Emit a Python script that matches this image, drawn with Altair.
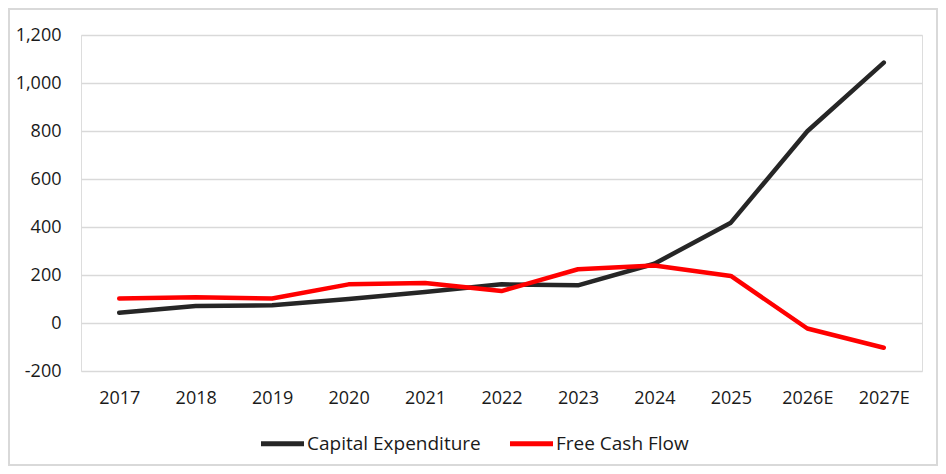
import altair as alt
import pandas as pd

years = ["2017", "2018", "2019", "2020", "2021", "2022", "2023", "2024", "2025", "2026E", "2027E"]
capex = [43, 71, 74, 100, 129, 161, 157, 247, 418, 799, 1085]
fcf = [102, 107, 102, 161, 167, 133, 224, 240, 196, -23, -103]
series_names = ["Capital Expenditure", "Free Cash Flow"]
series_colors = ["#262626", "#ff0000"]
y_ticks = [-200, 0, 200, 400, 600, 800, 1000, 1200]

rows = []
for i, yr in enumerate(years):
    rows.append({"year": yr, "series": series_names[0], "value": capex[i], "order": i})
    rows.append({"year": yr, "series": series_names[1], "value": fcf[i], "order": i})
df = pd.DataFrame(rows)

W, H = 841, 336
FONT = "Open Sans"

lines = alt.Chart(df).mark_line(strokeWidth=4.5, strokeCap="round", strokeJoin="round").encode(
    x=alt.X("year:N", sort=years, title=None,
            scale=alt.Scale(type="point", padding=0.5),
            axis=alt.Axis(labelAngle=0, domain=False, ticks=False, grid=False,
                          labelPadding=18, labelFontSize=18, labelFont=FONT, labelColor="#1a1a1a")),
    y=alt.Y("value:Q", title=None,
            scale=alt.Scale(domain=[-200, 1200], nice=False, zero=False),
            axis=alt.Axis(values=y_ticks, domain=False, ticks=False,
                          labelExpr="replace(format(datum.value, ',.0f'), '\u2212', '-')",
                          labelPadding=20, labelFontSize=18, labelFont=FONT, labelColor="#1a1a1a",
                          gridColor="#d9d9d9", gridWidth=1.5)),
    color=alt.Color("series:N", scale=alt.Scale(domain=series_names, range=series_colors),
                    legend=alt.Legend(title=None, orient="none", direction="horizontal",
                                      legendX=177, legendY=384,
                                      symbolType="stroke", symbolStrokeWidth=5, symbolSize=1850,
                                      labelFontSize=19, labelFont=FONT, labelColor="#1a1a1a",
                                      labelLimit=400, columnPadding=18, labelOffset=0)),
    order="order:Q",
)

frame = alt.Chart(pd.DataFrame({"a": [0]})).mark_rect(
    fill=None, stroke="#d9d9d9", strokeWidth=2
).encode(
    x=alt.value(-72), x2=alt.value(W + 15), y=alt.value(-26), y2=alt.value(H + 94)
)

chart = alt.layer(lines, frame).properties(
    width=W, height=H,
    autosize=alt.AutoSizeParams(type="none"),
    padding={"left": 73, "top": 27, "right": 16, "bottom": 95},
).configure_view(stroke=None).configure(background="white")

chart.save("out.html", embed_options={"renderer": "svg", "actions": False})
